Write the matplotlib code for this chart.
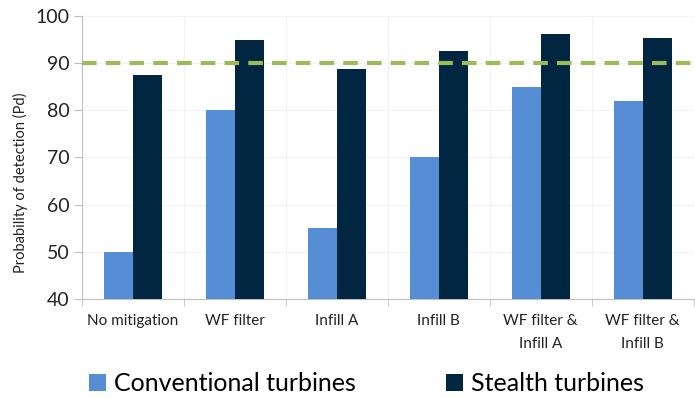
import numpy as np
import matplotlib
matplotlib.use("Agg")
import matplotlib.pyplot as plt

plt.rcParams['font.family'] = ['Lato', 'DejaVu Sans']

categories = ["No mitigation", "WF filter", "Infill A", "Infill B",
              "WF filter &\nInfill A", "WF filter &\nInfill B"]
conventional = [50, 80, 55, 70, 85, 82]
stealth = [87.5, 95, 88.8, 92.5, 96.2, 95.4]
threshold = 90

fig = plt.figure(figsize=(6.95, 3.98), dpi=100)
ax = fig.add_axes([0.118, 0.249, 0.880, 0.711])

x = np.arange(len(categories))
w = 0.285
ax.bar(x - w / 2, conventional, w, color='#558ED5', label='Conventional turbines', zorder=3)
ax.bar(x + w / 2, stealth, w, color='#002642', label='Stealth turbines', zorder=3)
ax.axhline(threshold, color='#9BBB59', linestyle=(0, (3.5, 2.2)), linewidth=3, zorder=4)

ax.set_ylim(40, 100)
ax.set_xlim(-0.5, len(categories) - 0.5)
ax.set_yticks(np.arange(40, 101, 10))
ax.set_xticks(x)
ax.set_xticklabels(categories, fontsize=11, color='#222222', linespacing=1.8,
                   va='top')
ax.set_xticks(np.arange(-0.5, len(categories)), minor=True)
ax.tick_params(axis='x', which='major', length=0, pad=11)
ax.tick_params(axis='x', which='minor', length=5, color='#BFBFBF')
ax.tick_params(axis='y', length=6, color='#BFBFBF', labelsize=14, labelcolor='#222222', pad=3)
ax.set_ylabel('Probability of detection (Pd)', fontsize=10.5, color='#222222')
ax.yaxis.set_label_coords(-0.088, 0.41)

ax.grid(axis='y', color='#F2F2F2', linewidth=0.8, zorder=0)
ax.grid(axis='x', which='minor', color='#F2F2F2', linewidth=0.8, zorder=0)
for s in ['top', 'right']:
    ax.spines[s].set_visible(False)
for s in ['left', 'bottom']:
    ax.spines[s].set_color('#BFBFBF')

fig.legend(loc='center', bbox_to_anchor=(0.527, 0.036), ncol=2, frameon=False,
           fontsize=18, handlelength=0.7, handleheight=0.7, handletextpad=0.3,
           columnspacing=3.6)

fig.savefig('out.png', dpi=100)
